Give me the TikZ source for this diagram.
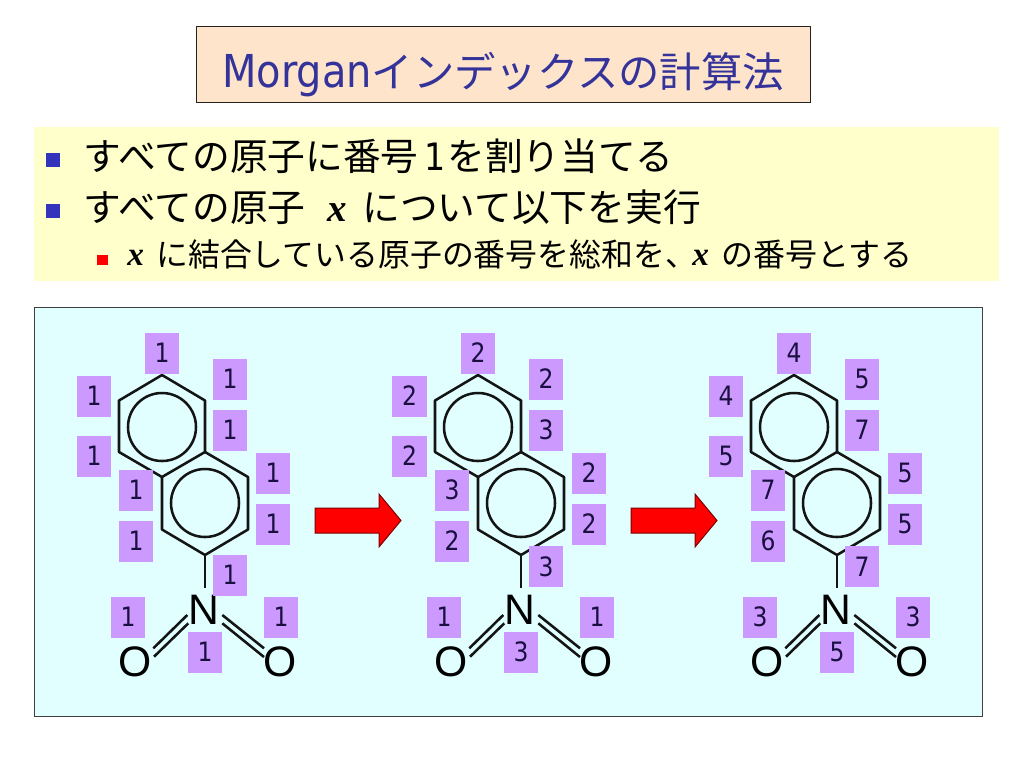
\documentclass[tikz,border=0pt]{standalone}
\usepackage{fontspec}
\setmainfont{DejaVu Sans}
\newfontfamily\cjk{Noto Sans CJK JP}
\newfontfamily\tah[FakeStretch=0.88]{DejaVu Sans}
\newfontfamily\arl{Liberation Sans}
\newfontfamily\tim[BoldItalicFont={Liberation Serif Bold Italic}]{Liberation Serif}
\definecolor{titlefill}{HTML}{FFE4CC}
\definecolor{titleink}{HTML}{333399}
\definecolor{bulletbar}{HTML}{FFFFCC}
\definecolor{panelfill}{HTML}{E1FFFF}
\definecolor{numfill}{HTML}{CC99FF}
\definecolor{numink}{HTML}{1A1040}
\definecolor{bluebullet}{HTML}{3333BB}
\definecolor{arrowedge}{HTML}{7A0000}
\newcommand{\ptpx}[1]{\fontsize{#1}{#1}\selectfont}
\newcommand{\varx}[1]{{\tim\bfseries\itshape\ptpx{#1}x}}
\tikzset{
  x=0.75pt, y=-0.75pt,
  bond/.style={line width=1.9pt, black!92},
  ringcircle/.style={line width=1.9pt, black!92},
  numbox/.style={fill=numfill, draw=none, minimum width=26pt, minimum height=30.75pt, inner sep=0pt, text=numink, font=\tah\ptpx{20}},
  atomlabel/.style={inner sep=0pt, font=\arl\ptpx{32}},
  redarrow/.style={fill=red, draw=arrowedge, line width=0.75pt, line join=miter},
  line1/.style={anchor=base west, inner sep=0pt, text=black},
  sq/.style={inner sep=0pt, draw=none},
}
\newcommand{\molecule}[3]{%
\begin{scope}[shift={(#2,0)}]
  \coordinate (#1a1) at (162,375); \coordinate (#1a2) at (205,400.5);
  \coordinate (#1a3) at (205,452); \coordinate (#1a4) at (162,477);
  \coordinate (#1a5) at (119,452); \coordinate (#1a6) at (119,400.5);
  \coordinate (#1b2) at (248,477); \coordinate (#1b3) at (248,529.5);
  \coordinate (#1b4) at (205,555); \coordinate (#1b5) at (162,529.5);
  \coordinate (#1nb) at (205,588);
  \coordinate (#1la) at (187.3,615); \coordinate (#1lb) at (153.3,648.3);
  \coordinate (#1lc) at (188.3,623.3); \coordinate (#1ld) at (154,656.7);
  \coordinate (#1ra) at (222.3,615); \coordinate (#1rb) at (264,648.3);
  \coordinate (#1rc) at (222.3,623.3); \coordinate (#1rd) at (264,657);
  \coordinate (#1c1) at (162,427); \coordinate (#1c2) at (205,503);
  \draw[bond, line join=round] (#1a1) -- (#1a2) -- (#1a3) -- (#1a4) -- (#1a5) -- (#1a6) -- cycle;
  \draw[bond, line join=round] (#1a3) -- (#1b2) -- (#1b3) -- (#1b4) -- (#1b5) -- (#1a4);
  \draw[bond] (#1b4) -- (#1nb);
  \draw[ringcircle] (#1c1) circle[radius=34];
  \draw[ringcircle] (#1c2) circle[radius=34];
  \draw[bond] (#1la) -- (#1lb); \draw[bond] (#1lc) -- (#1ld);
  \draw[bond] (#1ra) -- (#1rb); \draw[bond] (#1rc) -- (#1rd);
  \node[atomlabel] (#1N) at (204,610) {N};
  \node[atomlabel] (#1Ol) at (135,662) {O};
  \node[atomlabel] (#1Or) at (280,662) {O};
  \foreach \i/\nx/\ny/\t in {#3} { \node[numbox] (#1n\i) at (\nx,\ny) {\t}; }
\end{scope}}
\begin{document}
\begin{tikzpicture}
\useasboundingbox (0,0) rectangle (1024,768);
\fill[white] (0,0) rectangle (1024,768);
% title
\node[draw=black!85!titlefill, line width=0.75pt, fill=titlefill, minimum width=460.5pt, minimum height=57pt, inner sep=0pt] (title) at (503,64) {};
\node[anchor=base west, inner sep=0pt, text=titleink] (titletext) at (222,87) {{\tah\ptpx{34}Morgan}{\cjk\ptpx{31}インデックスの計算法}};
% bullets
\fill[bulletbar] (34,127) rectangle (999,281);
\node[sq, fill=bluebullet, minimum width=10.5pt, minimum height=10.5pt] (b1) at (53,160) {};
\node[sq, fill=bluebullet, minimum width=10.5pt, minimum height=10.5pt] (b2) at (53,211) {};
\node[sq, fill=red, minimum width=8pt, minimum height=7.5pt] (b3) at (102.5,260) {};
\node[line1] (t1a) at (83,170) {\cjk\ptpx{28.3}すべての原子に番号};
\node[line1] (t1n) at (424,170) {\tah\ptpx{28.3}1};
\node[line1] (t1b) at (447,170) {\cjk\ptpx{28.3}を割り当てる};
\node[line1] (t2a) at (83,221) {\cjk\ptpx{28.3}すべての原子};
\node[line1] (t2x) at (327,221) {\varx{29.25}};
\node[line1] (t2b) at (362,221) {\cjk\ptpx{28.3}について以下を実行};
\node[line1] (t3x) at (127,265) {\varx{25}};
\node[line1] (t3a) at (156,266) {\cjk\ptpx{23.9}に結合している原子の番号を総和を、};
\node[line1] (t3y) at (692,265) {\varx{25}};
\node[line1] (t3b) at (721,266) {\cjk\ptpx{24}の番号とする};
% panel
\draw[fill=panelfill, draw=black!75, line width=0.75pt] (34,307) rectangle (982,716);
\molecule{m}{0}{1/162/353/1, 2/230/379/1, 3/230/430/1, 4/273/473/1, 5/273/524/1, 6/230/575/1, 7/94/396/1, 8/94/456/1, 9/136/490/1, 10/136/541/1, 11/128/617/1, 12/281/617/1, 13/205/652/1}
\molecule{p}{316}{1/162/353/2, 2/230/379/2, 3/230/430/3, 4/273/473/2, 5/273/524/2, 6/230/566.5/3, 7/93.5/396/2, 8/93.5/456/2, 9/136/490/3, 10/136/541/2, 11/128/617/1, 12/281/617/1, 13/205/652/3}
\molecule{q}{632}{1/162/353/4, 2/230/379/5, 3/230/430/7, 4/273/473/5, 5/273/524/5, 6/230/566.5/7, 7/94/396/4, 8/94/456/5, 9/136/490/7, 10/136/541/6, 11/128/617/3, 12/281/617/3, 13/205/652/5}
% arrows
\draw[redarrow] (315,508) -- (379,508) -- (379,494) -- (401,520.5) -- (379,547) -- (379,533) -- (315,533) -- cycle;
\draw[redarrow] (631,508) -- (695,508) -- (695,494) -- (717,520.5) -- (695,547) -- (695,533) -- (631,533) -- cycle;
\end{tikzpicture}
\end{document}
